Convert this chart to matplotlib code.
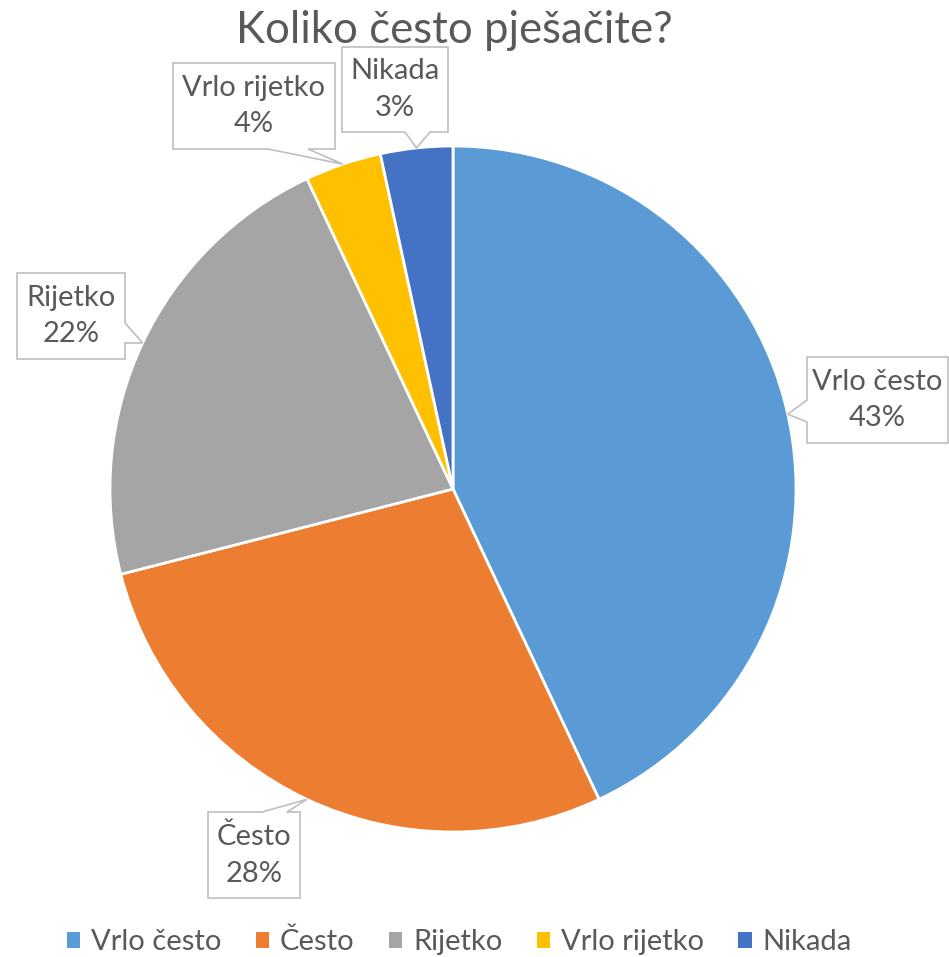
import numpy as np
import matplotlib
matplotlib.use("Agg")
import matplotlib.pyplot as plt
from matplotlib.patches import Polygon

categories = ["Vrlo često", "Često", "Rijetko", "Vrlo rijetko", "Nikada"]
shares = [43.0, 28.0, 22.0, 3.6, 3.4]
pct_labels = ["43%", "28%", "22%", "4%", "3%"]
colors = ["#5B9BD5", "#ED7D31", "#A5A5A5", "#FFC000", "#4472C4"]
title = "Koliko često pješačite?"

W, H = 949, 957
TXT = "#595959"
plt.rcParams["font.family"] = ["Lato", "DejaVu Sans"]

fig = plt.figure(figsize=(W / 100, H / 100), dpi=100)
ax = fig.add_axes([0, 0, 1, 1])

cx, cy, r = 453, H - 489, 343
wedges, _ = ax.pie(shares, colors=colors, startangle=90, counterclock=False,
                   center=(cx, cy), radius=r, frame=True,
                   wedgeprops=dict(edgecolor="white", linewidth=2))
ax.set_xlim(0, W)
ax.set_ylim(0, H)
ax.set_aspect("equal")
ax.axis("off")

# callout boxes: (left, top, right, bottom) in image pixels, side of the pointer, pointer base
boxes = [
    ((807, 357, 948, 443), "left", (400, 422)),
    ((208, 812, 300, 898), "top", (262, 287)),
    ((17, 273, 125, 359), "right", (323, 343)),
    ((173, 63, 335, 149), "bottom", (268, 308)),
    ((342, 47, 448, 132), "bottom", (405, 430)),
]


def callout(box, side, base, tip):
    x0, y0, x1, y1 = box
    a, b = base
    if side == "bottom":
        pts = [(x0, y0), (x1, y0), (x1, y1), (b, y1), tip, (a, y1), (x0, y1)]
    elif side == "top":
        pts = [(x0, y0), (a, y0), tip, (b, y0), (x1, y0), (x1, y1), (x0, y1)]
    elif side == "left":
        pts = [(x0, y0), (x1, y0), (x1, y1), (x0, y1), (x0, b), tip, (x0, a)]
    else:
        pts = [(x0, y0), (x1, y0), (x1, a), tip, (x1, b), (x1, y1), (x0, y1)]
    return [(px, H - py) for px, py in pts]


for w, name, pct, (box, side, base) in zip(wedges, categories, pct_labels, boxes):
    mid = np.deg2rad((w.theta1 + w.theta2) / 2)
    tip = (cx + r * np.cos(mid), H - (cy + r * np.sin(mid)))
    poly = Polygon(callout(box, side, base, tip), closed=True, facecolor="white",
                   edgecolor="#BFBFBF", linewidth=1.2, zorder=3)
    ax.add_patch(poly)
    bx = (box[0] + box[2]) / 2
    by = H - (box[1] + box[3]) / 2
    ax.text(bx, by, name + "\n" + pct, ha="center", va="center", fontsize=21,
            color=TXT, linespacing=1.5, zorder=4)

ax.text(454, H - 43, title, ha="center", va="baseline", fontsize=31.5, color=TXT)

fig.legend(wedges, categories, loc="center", bbox_to_anchor=(0.484, 1 - 942 / H),
           ncol=5, frameon=False, fontsize=21, labelcolor=TXT,
           handlelength=0.45, handleheight=0.45, handletextpad=0.38,
           columnspacing=1.18, borderpad=0)
for h in fig.legends[0].legend_handles:
    h.set_edgecolor("none")

fig.savefig("out.png", dpi=100)
